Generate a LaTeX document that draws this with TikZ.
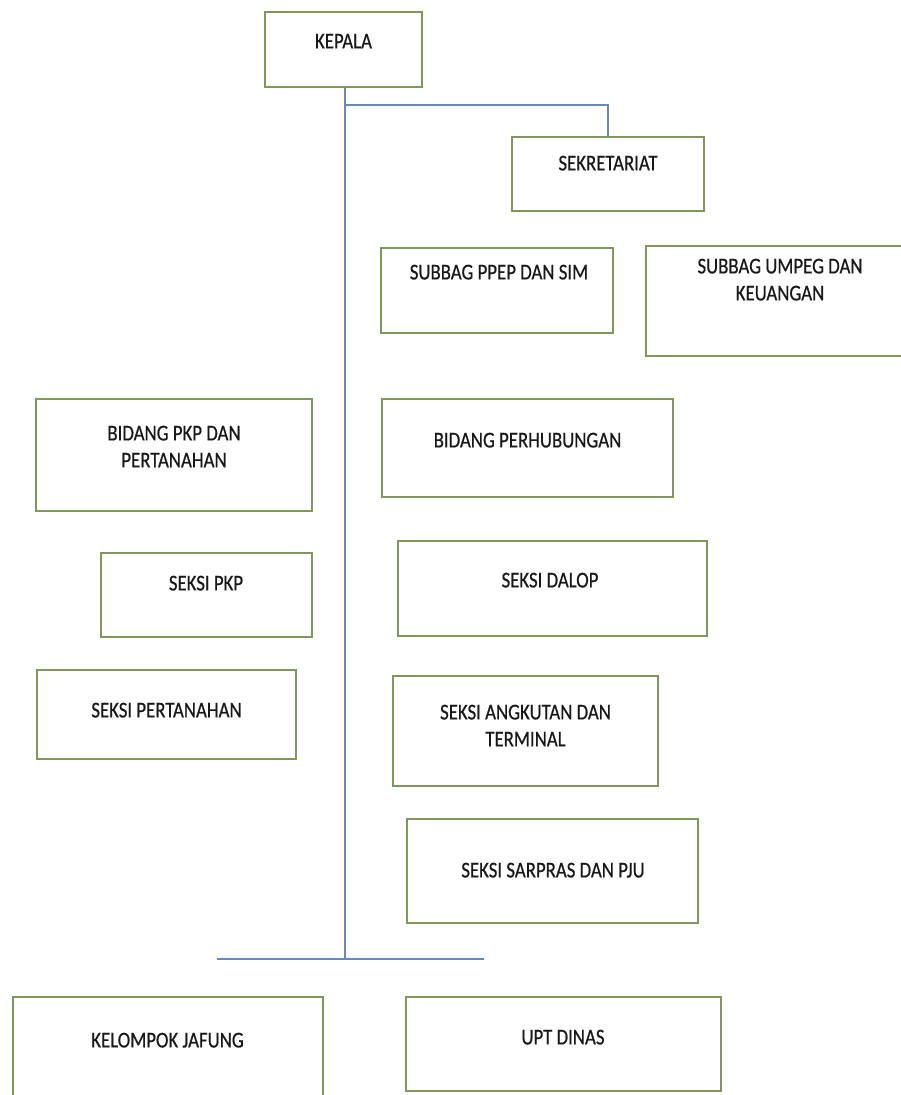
\documentclass[tikz,border=0pt]{standalone}
\usepackage{fontspec}
\usepackage{graphicx}
\setmainfont[FakeBold=0.6]{Carlito}
\definecolor{boxline}{HTML}{80965A}
\definecolor{linkline}{HTML}{6689B5}
% box captions: centred lines, slightly tall lettering
\newcommand{\boxtext}[1]{\scalebox{1}[1.2]{\begin{tabular}{@{}c@{}}#1\end{tabular}}}
\begin{document}
\begin{tikzpicture}[x=1pt,y=-1pt,
  orgbox/.style={draw=boxline, line width=1.5pt, fill=white, rectangle, inner sep=0pt},
  caption/.style={inner sep=0pt, text=black!90, font=\fontsize{18.8}{22.5}\selectfont},
  link/.style={draw=linkline, line width=1.5pt}]
\useasboundingbox (0,0) rectangle (901,1095);
\fill[white] (0,0) rectangle (901,1095);
\clip (0,0) rectangle (901,1095);

% unit boxes
\node[orgbox, minimum width=157, minimum height=75]  (kepala)      at (343.5,49.5) {};
\node[orgbox, minimum width=192, minimum height=74]  (sekretariat) at (608,174)    {};
\node[orgbox, minimum width=232, minimum height=85]  (ppep)        at (497,290.5)  {};
\node[orgbox, minimum width=268, minimum height=110] (umpeg)       at (780,301)    {};
\node[orgbox, minimum width=276, minimum height=112] (bidpkp)      at (174,455)    {};
\node[orgbox, minimum width=291, minimum height=98]  (perhub)      at (527.5,448)  {};
\node[orgbox, minimum width=211, minimum height=84]  (seksipkp)    at (206.5,595)  {};
\node[orgbox, minimum width=309, minimum height=95]  (dalop)       at (552.5,588.5){};
\node[orgbox, minimum width=259, minimum height=89]  (pertanahan)  at (166.5,714.5){};
\node[orgbox, minimum width=265, minimum height=110] (angkutan)    at (525.5,731)  {};
\node[orgbox, minimum width=291, minimum height=104] (sarpras)     at (552.5,871)  {};
\node[orgbox, minimum width=310, minimum height=108] (kelompok)    at (168,1051)   {};
\node[orgbox, minimum width=315, minimum height=94]  (upt)         at (563.5,1044) {};

% captions
\node[caption] (kepala-t)      at (343.5,43)  {\boxtext{KEPALA}};
\node[caption] (sekretariat-t) at (608,165)   {\boxtext{SEKRETARIAT}};
\node[caption] (ppep-t)        at (499,274)   {\boxtext{SUBBAG PPEP DAN SIM}};
\node[caption] (umpeg-t)       at (780,281.5) {\boxtext{SUBBAG UMPEG DAN\\KEUANGAN}};
\node[caption] (bidpkp-t)      at (174,448.5) {\boxtext{BIDANG PKP DAN\\PERTANAHAN}};
\node[caption] (perhub-t)      at (527.5,442) {\boxtext{BIDANG PERHUBUNGAN}};
\node[caption] (seksipkp-t)    at (206,585)   {\boxtext{SEKSI PKP}};
\node[caption] (dalop-t)       at (550,582)   {\boxtext{SEKSI DALOP}};
\node[caption] (pertanahan-t)  at (166.5,712) {\boxtext{SEKSI PERTANAHAN}};
\node[caption] (angkutan-t)    at (525.5,727.5){\boxtext{SEKSI ANGKUTAN DAN\\TERMINAL}};
\node[caption] (sarpras-t)     at (553,872)   {\boxtext{SEKSI SARPRAS DAN PJU}};
\node[caption] (kelompok-t)    at (167.5,1042){\boxtext{KELOMPOK JAFUNG}};
\node[caption] (upt-t)         at (563,1039)  {\boxtext{UPT DINAS}};

% connectors
\coordinate (branch) at (345,105);
\coordinate (foot)   at (345,959);
\coordinate (footl)  at (217,959);
\coordinate (footr)  at (484,959);
\draw[link] (kepala.south -| foot) -- (foot);
\draw[link] (branch) -| (sekretariat.north);
\draw[link] (footl) -- (footr);
\end{tikzpicture}
\end{document}
